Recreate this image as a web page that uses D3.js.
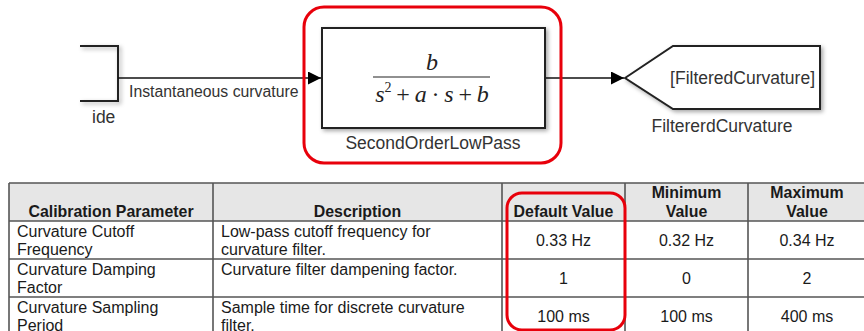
<!DOCTYPE html>
<html>
<head>
<meta charset="utf-8">
<script src="https://cdn.jsdelivr.net/npm/d3@7"></script>
<style>
  body { margin: 0; background: #fff; }
  svg { display: block; }
</style>
</head>
<body>
<svg id="chart" width="864" height="331"></svg>
<script>
// diagram labels
var inputName = 'ide';
var signalLabel = 'Instantaneous curvature';
var blockName = 'SecondOrderLowPass';
var numerator = 'b';
var gotoTag = '[FilteredCurvature]';
var gotoName = 'FiltererdCurvature';

// table contents
var headers = [['Calibration Parameter'], ['Description'], ['Default Value'], ['Minimum', 'Value'], ['Maximum', 'Value']];
var paramNames = [['Curvature Cutoff', 'Frequency'], ['Curvature Damping', 'Factor'], ['Curvature Sampling', 'Period']];
var descriptions = [['Low-pass cutoff frequency for', 'curvature filter.'], ['Curvature filter dampening factor.'], ['Sample time for discrete curvature', 'filter.']];
var defaults = ['0.33 Hz', '1', '100 ms'];
var minimums = ['0.32 Hz', '0', '100 ms'];
var maximums = ['0.34 Hz', '2', '400 ms'];

var svg = d3.select('#chart');
var font = 'Liberation Sans, Arial, sans-serif';

var defs = svg.append('defs');
defs.append('filter').attr('id', 'shadow').attr('x', '-10%').attr('y', '-10%').attr('width', '130%').attr('height', '140%')
    .append('feDropShadow').attr('dx', 2).attr('dy', 2).attr('stdDeviation', 2)
    .attr('flood-color', '#000').attr('flood-opacity', 0.35);
defs.append('marker').attr('id', 'arrow').attr('viewBox', '0 0 10 10')
    .attr('refX', 10).attr('refY', 5).attr('markerWidth', 13).attr('markerHeight', 13)
    .attr('markerUnits', 'userSpaceOnUse').attr('orient', 'auto')
    .append('path').attr('d', 'M0,0L10,5L0,10Z').attr('fill', '#000');

// ---------- diagram ----------
var lineY = 78;
var diag = svg.append('g');

// left (cropped) block
diag.append('path')
    .attr('d', 'M80,46H118V101H80')
    .attr('fill', 'none').attr('stroke', '#222').attr('stroke-width', 2)
    .attr('filter', 'url(#shadow)');
diag.append('text').attr('x', 92).attr('y', 123)
    .attr('font-family', font).attr('font-size', 17.5).attr('fill', '#333')
    .text(inputName);

// signal lines
diag.append('line').attr('x1', 118).attr('y1', lineY).attr('x2', 321).attr('y2', lineY)
    .attr('stroke', '#111').attr('stroke-width', 1.3).attr('marker-end', 'url(#arrow)');
diag.append('text').attr('x', 129).attr('y', 97)
    .attr('font-family', font).attr('font-size', 15.8).attr('fill', '#333')
    .text(signalLabel);
diag.append('line').attr('x1', 545).attr('y1', lineY).attr('x2', 624).attr('y2', lineY)
    .attr('stroke', '#111').attr('stroke-width', 1.3).attr('marker-end', 'url(#arrow)');

// transfer function block
diag.append('rect').attr('x', 322).attr('y', 28).attr('width', 223).attr('height', 100)
    .attr('fill', '#fff').attr('stroke', '#222').attr('stroke-width', 2)
    .attr('filter', 'url(#shadow)');
var tf = diag.append('g').attr('font-family', 'Liberation Serif, Times New Roman, serif')
    .attr('font-style', 'italic').attr('font-size', 24).attr('fill', '#222');
tf.append('text').attr('x', 432).attr('y', 70).attr('text-anchor', 'middle').text(numerator);
diag.append('line').attr('x1', 373).attr('x2', 490).attr('y1', 77).attr('y2', 77)
    .attr('stroke', '#222').attr('stroke-width', 1.2);
var den = tf.append('text').attr('x', 432).attr('y', 102).attr('text-anchor', 'middle');
den.append('tspan').text('s');
den.append('tspan').attr('font-size', 14).attr('font-style', 'normal').attr('dy', -10).text('2');
den.append('tspan').attr('dy', 10).attr('font-style', 'normal').text('\u2009+\u2009');
den.append('tspan').text('a');
den.append('tspan').attr('font-style', 'normal').text('\u2009\u00b7\u2009');
den.append('tspan').text('s');
den.append('tspan').attr('font-style', 'normal').text('\u2009+\u2009');
den.append('tspan').text('b');
diag.append('text').attr('x', 433).attr('y', 149).attr('text-anchor', 'middle')
    .attr('font-family', font).attr('font-size', 17.5).attr('fill', '#333')
    .text(blockName);

// goto block
diag.append('path')
    .attr('d', 'M625,' + lineY + 'L673,46H820V109H673Z')
    .attr('fill', '#fff').attr('stroke', '#222').attr('stroke-width', 2)
    .attr('filter', 'url(#shadow)');
diag.append('text').attr('x', 815).attr('y', 84).attr('text-anchor', 'end')
    .attr('font-family', font).attr('font-size', 17.5).attr('fill', '#333')
    .text(gotoTag);
diag.append('text').attr('x', 722).attr('y', 132).attr('text-anchor', 'middle')
    .attr('font-family', font).attr('font-size', 17.5).attr('fill', '#333')
    .text(gotoName);

// highlight around block
diag.append('rect').attr('x', 304).attr('y', 7).attr('width', 257).attr('height', 156)
    .attr('rx', 20).attr('fill', 'none').attr('stroke', '#e8000b').attr('stroke-width', 3);

// ---------- table ----------
var colEdges = [9, 213, 502, 625, 748, 866];
var col = d3.scaleOrdinal().domain(d3.range(5)).range(colEdges.slice(0, 5));
var colW = function(i) { return colEdges[i + 1] - colEdges[i]; };
var headTop = 183, headBottom = 221;
var rowY = d3.scaleBand().domain(d3.range(paramNames.length)).range([headBottom, headBottom + 3 * 38]).paddingInner(0);
var lineH = 18;

var rows = paramNames.map(function(p, i) {
    return [p, descriptions[i], [defaults[i]], [minimums[i]], [maximums[i]]];
});

var table = svg.append('g');
table.append('rect').attr('x', colEdges[0]).attr('y', headTop)
    .attr('width', colEdges[5] - colEdges[0]).attr('height', headBottom - headTop)
    .attr('fill', '#e6e6e6');

// header text
headers.forEach(function(h, i) {
    var cx = col(i) + colW(i) / 2;
    h.forEach(function(t, k) {
        table.append('text').attr('x', cx).attr('y', headBottom - 4 - (h.length - 1 - k) * 19)
            .attr('text-anchor', 'middle').attr('font-family', font).attr('font-weight', 'bold')
            .attr('font-size', 15.9).attr('fill', '#1a1a1a').text(t);
    });
});

// body text
rows.forEach(function(r, i) {
    var top = rowY(i), mid = top + rowY.bandwidth() / 2;
    r.forEach(function(cell, j) {
        cell.forEach(function(t, k) {
            var left = j < 2;
            var y = left ? top + 16 + k * lineH : mid + 6;
            table.append('text')
                .attr('x', left ? col(j) + 8 : col(j) + colW(j) / 2)
                .attr('y', y)
                .attr('text-anchor', left ? 'start' : 'middle')
                .attr('font-family', font).attr('font-size', 16).attr('fill', '#1a1a1a')
                .text(t);
        });
    });
});

// grid lines
var gridColor = '#555';
[headTop, headBottom].concat(d3.range(rows.length).map(function(i) { return rowY(i) + rowY.bandwidth(); })).forEach(function(y) {
    table.append('line').attr('x1', colEdges[0]).attr('x2', colEdges[5]).attr('y1', y).attr('y2', y)
        .attr('stroke', gridColor).attr('stroke-width', 1.6);
});
colEdges.forEach(function(x) {
    table.append('line').attr('x1', x).attr('x2', x).attr('y1', headTop).attr('y2', 340)
        .attr('stroke', gridColor).attr('stroke-width', 1.6);
});

// highlight around default column
table.append('rect').attr('x', 507).attr('y', 193).attr('width', 118).attr('height', 137)
    .attr('rx', 15).attr('fill', 'none').attr('stroke', '#e8000b').attr('stroke-width', 3);
</script>
</body>
</html>
